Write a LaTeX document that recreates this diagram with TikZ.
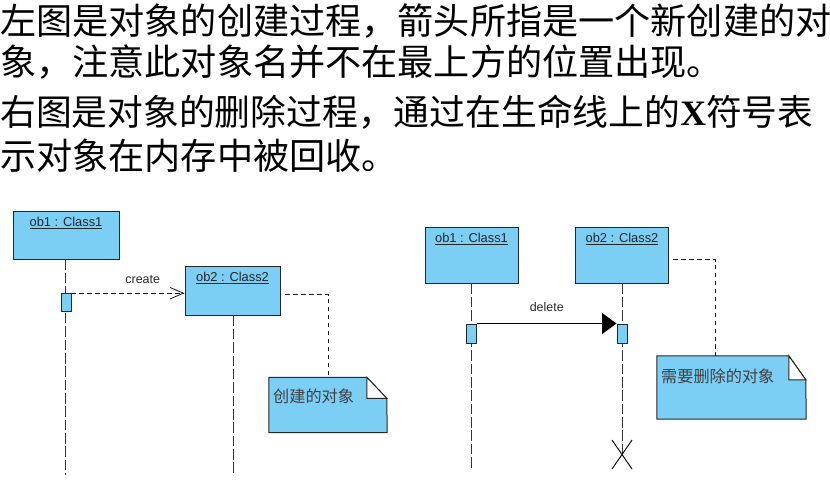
\documentclass[tikz,border=0pt]{standalone}
\usepackage{fontspec}
\setmainfont{Liberation Sans}
\newfontfamily\cjk{Noto Sans CJK SC}
\newfontfamily\serifbold{Liberation Serif}[BoldFont={Liberation Serif Bold}]
\usepackage{tikz}
\usetikzlibrary{positioning,arrows.meta}
\definecolor{umlblue}{RGB}{123,207,245}
\tikzset{
	objbox/.style={draw=black!85,line width=0.85pt,fill=umlblue,inner sep=0pt},
	actbox/.style={draw=black!85,line width=0.8pt,fill=umlblue,inner sep=0pt,minimum width=0.3cm,minimum height=0.53cm},
	objname/.style={inner sep=0pt,font=\fontsize{11}{13}\selectfont,text=black!85},
	msglabel/.style={inner sep=0pt,font=\fontsize{10.6}{13}\selectfont,text=black!85},
	notetext/.style={inner sep=0pt,font=\cjk\fontsize{13.8}{16}\selectfont,text=black!75,anchor=west},
	headline/.style={inner sep=0pt,anchor=west,font=\cjk\fontsize{30.85}{36}\selectfont},
	lifeline/.style={black!80,line width=0.8pt,dash pattern=on 9pt off 2.4pt},
	notelink/.style={black!90,line width=0.8pt,dash pattern=on 4pt off 2.8pt},
	notepaper/.style={inner sep=0pt},
}
\begin{document}
\begin{tikzpicture}[x=0.03cm,y=-0.03cm]
	\useasboundingbox (0,0) rectangle (830,482);

	%heading
	\node[headline] (line1) at (0,21) {左图是对象的创建过程，箭头所指是一个新创建的对};
	\node[headline] (line2) at (0,62) {象，注意此对象名并不在最上方的位置出现。};
	\node[headline,font=\cjk\fontsize{30.55}{36}\selectfont] (line3) at (0,112) {右图是对象的删除过程，通过在生命线上的{\serifbold\bfseries X}符号表};
	\node[headline] (line4) at (0,156) {示对象在内存中被回收。};

	%left picture
	\node[objbox,minimum width=3.18cm,minimum height=1.44cm] (ob1a) at (66,235) {};
	\node[objbox,minimum width=2.85cm,minimum height=1.47cm] (ob2a) at (232.5,290.5) {};
	\node[objname,below=0.2cm of ob1a.north] (ob1atext) {\underline{ob1 : Class1}};
	\node[objname,below=0.2cm of ob2a.north] (ob2atext) {\underline{ob2 : Class2}};
	\coordinate (end1a) at (65,475);
	\coordinate (end2a) at (233.5,475);
	\draw[lifeline] (ob1a.south -| end1a) -- (end1a);
	\draw[lifeline] (ob2a.south -| end2a) -- (end2a);
	\node[actbox] (acta) at (66,302.5) {};
	\draw[notelink,-{Straight Barb[length=4mm,width=3.4mm,line width=0.7pt]}] (acta.north east) -- (acta.north east -| ob2a.west) node[pos=0.63,above=0.26cm,msglabel,inner sep=0pt] (createlabel) {create};

	\node[notepaper,minimum width=3.54cm,minimum height=1.65cm] (notea) at (328,405) {};
	\draw[objbox] (notea.north west) -- ++(98,0) -- ++(20,21) -- (notea.south east) -- (notea.south west) -- cycle;
	\draw[objbox,fill=white] (notea.north west) ++(98,0) -- ++(20,21) -- ++(-20,0) -- cycle;
	\node[notetext] (noteatext) at (273,396) {创建的对象};
	\coordinate (benda) at (328,294);
	\coordinate (starta) at (285,294);
	\draw[notelink] (starta) -- (benda) -- (notea.north);

	%right picture
	\node[objbox,minimum width=2.79cm,minimum height=1.68cm] (ob1b) at (471.5,255) {};
	\node[objbox,minimum width=2.79cm,minimum height=1.68cm] (ob2b) at (622,255) {};
	\node[objname,below=0.2cm of ob1b.north] (ob1btext) {\underline{ob1 : Class1}};
	\node[objname,below=0.2cm of ob2b.north] (ob2btext) {\underline{ob2 : Class2}};
	\coordinate (end1b) at (471.5,469);
	\coordinate (killb) at (622,455);
	\draw[lifeline] (ob1b.south) -- (end1b);
	\draw[lifeline] (ob2b.south) -- (killb);
	\node[actbox,minimum height=0.57cm] (act1b) at (471.5,333.5) {};
	\node[actbox,minimum height=0.57cm] (act2b) at (622,333.5) {};
	\draw[black,line width=1.1pt,-{Triangle[length=4.3mm,width=6.2mm]}] (act1b.north east) -- (act2b.north west) node[midway,above=0.33cm,msglabel] (deletelabel) {delete};
	\draw[line width=0.8pt] (killb) ++(-10,-15) -- ++(20,29) (killb) ++(10,-15) -- ++(-20,29);

	\node[notepaper,minimum width=4.47cm,minimum height=1.89cm] (noteb) at (731.5,387.5) {};
	\draw[objbox] (noteb.north west) -- ++(132,0) -- ++(17,24) -- (noteb.south east) -- (noteb.south west) -- cycle;
	\draw[objbox,fill=white] (noteb.north west) ++(132,0) -- ++(17,24) -- ++(-17,0) -- cycle;
	\node[notetext] (notebtext) at (661,376) {需要删除的对象};
	\coordinate (bendb) at (715,259);
	\coordinate (startb) at (673,259);
	\draw[notelink] (startb) -- (bendb) -- (bendb |- noteb.north);
\end{tikzpicture}
\end{document}
